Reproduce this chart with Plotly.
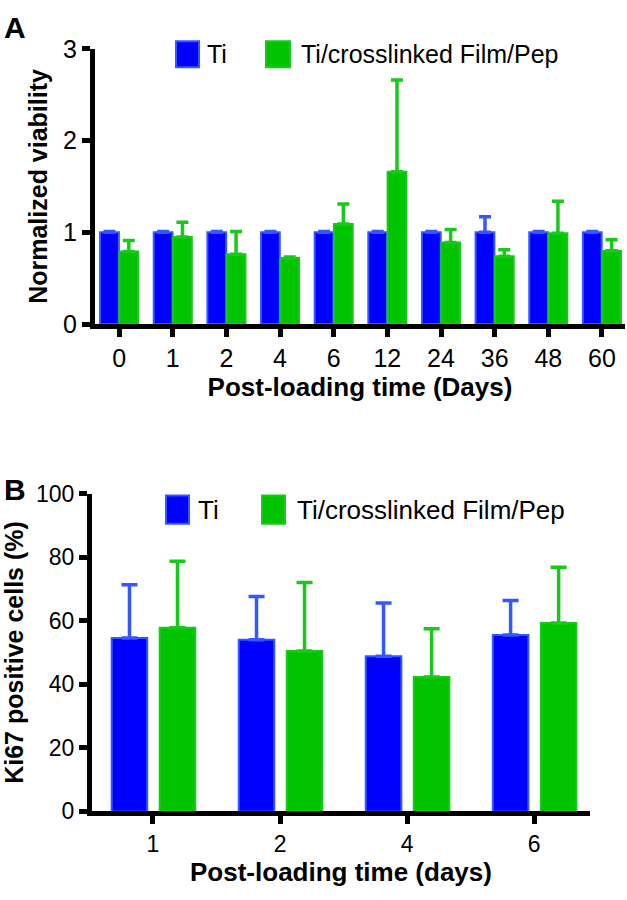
import plotly.graph_objects as go

# Panel A - normalized viability
days_a = ["0", "1", "2", "4", "6", "12", "24", "36", "48", "60"]
ti_a = [1.0, 1.0, 1.0, 1.0, 1.0, 1.0, 1.0, 1.0, 1.0, 1.0]
ti_a_err = [0.01, 0.01, 0.01, 0.01, 0.01, 0.01, 0.01, 0.17, 0.01, 0.01]
film_a = [0.79, 0.95, 0.76, 0.72, 1.09, 1.66, 0.89, 0.74, 0.99, 0.80]
film_a_err = [0.12, 0.16, 0.25, 0.01, 0.22, 1.00, 0.14, 0.07, 0.35, 0.12]

# Panel B - Ki67 positive cells
days_b = ["1", "2", "4", "6"]
ti_b = [54.6, 54.0, 48.8, 55.5]
ti_b_err = [16.7, 13.6, 16.8, 10.9]
film_b = [57.8, 50.5, 42.3, 59.3]
film_b_err = [20.9, 21.5, 15.2, 17.5]

series_names = ["Ti", "Ti/crosslinked Film/Pep"]

W, H = 627, 900
FONT = "Liberation Sans, Arial, Helvetica, sans-serif"
BLUE = "#0000ff"
BLUE_EDGE = "#3358ff"
GREEN = "#00c400"
GREEN_EDGE = "#19c919"


def px(x):
    return x / W


def py(y):
    return 1 - y / H


def bar(x, y, err, color, edge, width, offset, cap, axes):
    return go.Bar(
        x=x, y=y, width=width, offset=offset,
        marker=dict(color=color, line=dict(color=edge, width=2)),
        error_y=dict(type="data", symmetric=False, array=err,
                     arrayminus=[0] * len(err), color=edge,
                     thickness=3.5, width=cap),
        xaxis=axes[0], yaxis=axes[1], showlegend=False,
    )


fig = go.Figure()
fig.add_trace(bar(days_a, ti_a, ti_a_err, BLUE, BLUE_EDGE, 0.35, -0.355, 6, ("x", "y")))
fig.add_trace(bar(days_a, film_a, film_a_err, GREEN, GREEN_EDGE, 0.35, 0.005, 6, ("x", "y")))
fig.add_trace(bar(days_b, ti_b, ti_b_err, BLUE, BLUE_EDGE, 0.28, -0.325, 8, ("x2", "y2")))
fig.add_trace(bar(days_b, film_b, film_b_err, GREEN, GREEN_EDGE, 0.28, 0.053, 8, ("x2", "y2")))

axis_style = dict(showline=True, linecolor="black", linewidth=5, ticks="outside",
                  ticklen=8, tickwidth=5, tickcolor="black", showgrid=False,
                  zeroline=False)
title_font = dict(family=FONT, size=26, color="black")

fig.update_layout(
    width=W, height=H,
    margin=dict(l=0, r=0, t=0, b=0),
    paper_bgcolor="white", plot_bgcolor="white",
    barmode="overlay",
    font=dict(family=FONT, color="black"),
    xaxis=dict(domain=[px(95), px(625)], anchor="y", type="category",
               range=[-0.45, 9.43], tickfont=dict(size=25),
               title=dict(text="<b>Post-loading time (Days)</b>", font=title_font, standoff=6),
               **axis_style),
    yaxis=dict(domain=[py(320), py(36)], anchor="x", range=[0, 3],
               tickvals=[0, 1, 2, 3], tickfont=dict(size=25),
               title=dict(text="<b>Normalized viability</b>", font=dict(family=FONT, size=25, color="black"), standoff=10),
               **axis_style),
    xaxis2=dict(domain=[px(92), px(590)], anchor="y2", type="category",
                range=[-0.48, 3.44], tickfont=dict(size=23),
                title=dict(text="<b>Post-loading time (days)</b>", font=title_font, standoff=6),
                **axis_style),
    yaxis2=dict(domain=[py(823), py(495)], anchor="x2", range=[0, 100],
                tickvals=[0, 20, 40, 60, 80, 100], tickfont=dict(size=23),
                title=dict(text="<b>Ki67 positive cells (%)</b>", font=dict(family=FONT, size=25, color="black"), standoff=8),
                **axis_style),
)

# panel letters
for letter, y in (("A", 14), ("B", 491)):
    fig.add_annotation(text=f"<b>{letter}</b>", x=px(2), y=py(y), xref="paper", yref="paper",
                       xanchor="left", yanchor="middle", showarrow=False,
                       font=dict(family=FONT, size=30, color="black"))

# legends drawn as boxes + labels
legend_items = [
    # (x0, x1, y0, y1, color, edge, label x, font size, label)
    (176, 199, 28, 55, BLUE, BLUE_EDGE, 205, 25, series_names[0]),
    (266, 290, 28, 55, GREEN, GREEN_EDGE, 299, 25, series_names[1]),
    (166, 189, 497, 526, BLUE, BLUE_EDGE, 196, 26, series_names[0]),
    (262, 285, 497, 526, GREEN, GREEN_EDGE, 295, 26, series_names[1]),
]
for x0, x1, y0, y1, col, edge, tx, fs, label in legend_items:
    fig.add_shape(type="rect", xref="paper", yref="paper",
                  x0=px(x0), x1=px(x1), y0=py(y1), y1=py(y0),
                  fillcolor=col, line=dict(color=edge, width=2))
    fig.add_annotation(text=label, x=px(tx), y=py((y0 + y1) / 2), xref="paper", yref="paper",
                       xanchor="left", yanchor="middle", showarrow=False,
                       font=dict(family=FONT, size=fs, color="black"))

# pin the 627x900 figure to the window corner so the page is exactly window-sized
pin = ("document.body.style.margin='0';document.body.style.overflow='hidden';"
       "var d=document.getElementById('{plot_id}');"
       "d.style.position='fixed';d.style.left='0';d.style.top='0';")
fig.write_html("out.html", config={"displayModeBar": False}, post_script=pin)
